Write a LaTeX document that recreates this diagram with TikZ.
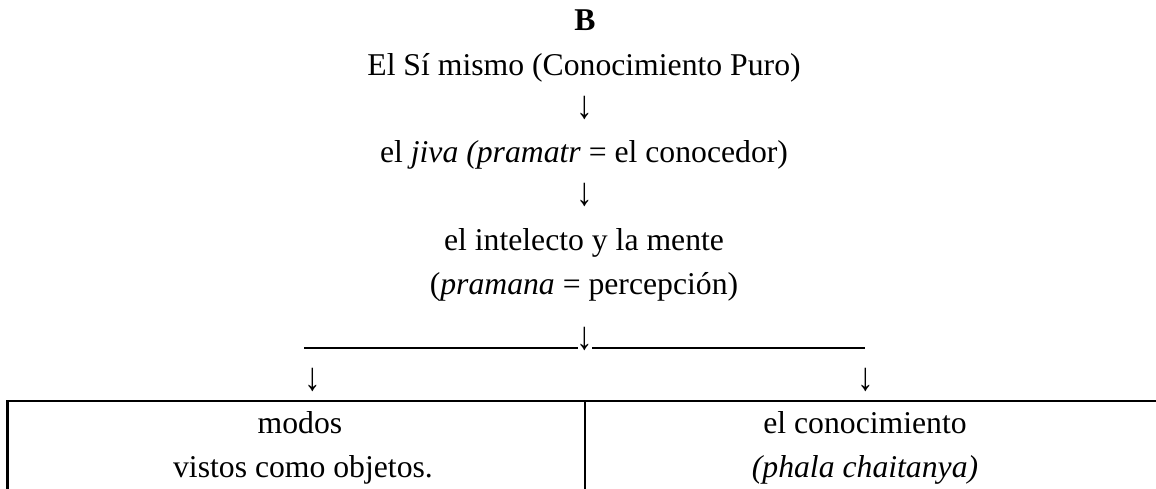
\documentclass[tikz,border=0pt]{standalone}
\usepackage{fontspec}
\setmainfont{Liberation Serif}
\newcommand{\dnarrow}{\scalebox{1.05}[1.25]{↓}}
\begin{document}
\begin{tikzpicture}[x=1pt,y=-1pt,
  txt/.style={anchor=base,inner sep=0pt,font=\fontsize{31.7}{38}\selectfont},
  rule/.style={line width=2.4pt},
  uline/.style={line width=1.4pt}]
\useasboundingbox (0,0) rectangle (1156,489);
\node[txt] (b) at (585,31) {\textbf{B}};
\node[txt] (self) at (584,76) {El Sí mismo (Conocimiento Puro)};
\node[txt] (a1) at (585,119) {\dnarrow};
\node[txt] (jiva) at (584,163) {el \textit{jiva (pramatr} = el conocedor)};
\node[txt] (a2) at (585,206) {\dnarrow};
\node[txt] (int) at (584,250) {el intelecto y la mente};
\node[txt] (pram) at (584,294) {(\textit{pramana} = percepción)};
\node[txt] (a3) at (585,349) {\dnarrow};
\coordinate (l1) at (304,348);
\coordinate (l2) at (578,348);
\coordinate (r1) at (592,348);
\coordinate (r2) at (865,348);
\draw[uline] (l1) -- (l2);
\draw[uline] (r1) -- (r2);
\node[txt] (a4) at (313,390) {\dnarrow};
\node[txt] (a5) at (866,390) {\dnarrow};
% table
\coordinate (tl) at (7.5,401);
\coordinate (tr) at (1156,401);
\coordinate (bl) at (7.5,489);
\coordinate (tm) at (585,401);
\coordinate (bm) at (585,489);
\draw[rule] (bl) -- (tl) -- (tr);
\draw[rule] (tm) -- (bm);
\node[txt] (modos) at (300,433) {modos};
\node[txt] (vistos) at (303,477) {vistos como objetos.};
\node[txt] (con) at (865,433) {el conocimiento};
\node[txt] (phala) at (865,477) {\textit{(phala chaitanya)}};
\end{tikzpicture}
\end{document}
